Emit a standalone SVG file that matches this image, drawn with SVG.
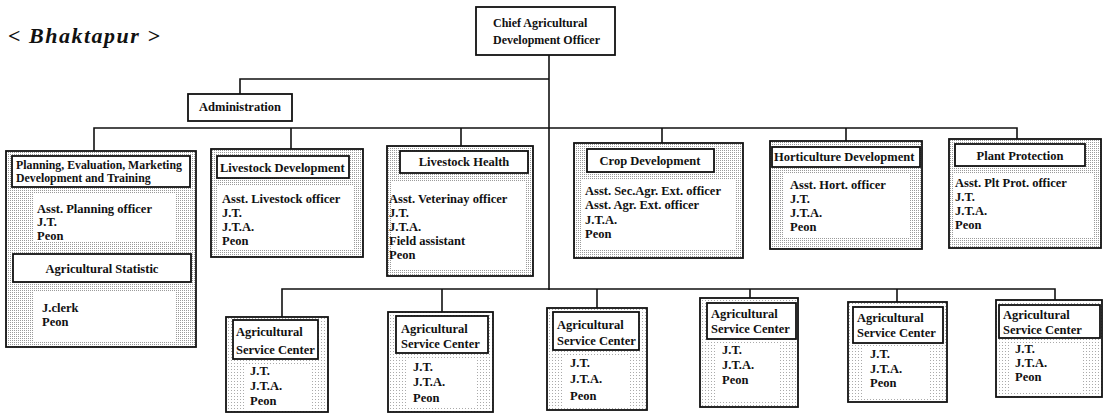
<svg xmlns="http://www.w3.org/2000/svg" width="1105" height="415" viewBox="0 0 1105 415">
<style>
text{font-family:"Liberation Serif","Times New Roman",serif;font-size:12.5px;font-weight:bold;fill:#111}
.title{font-size:22px;font-style:italic;letter-spacing:1.5px}
.chief{font-size:12px}
.sm{font-size:11.8px}
.mid{text-anchor:middle}
.outer{fill:url(#dots);stroke:#111;stroke-width:1.8}
.outerl{fill:url(#dotsl);stroke:#111;stroke-width:1.8}
.tbox{fill:#fff;stroke:#111;stroke-width:1.8}
.inner{fill:#fff;stroke:none}
.conn{fill:none;stroke:#111;stroke-width:1.6}
</style>
<defs>
<pattern id="dots" width="2" height="2" patternUnits="userSpaceOnUse">
<rect width="2" height="2" fill="#fff"/>
<rect width="1" height="1" fill="#9a9a9a"/>
</pattern>
<pattern id="dotsl" width="3" height="3" patternUnits="userSpaceOnUse">
<rect width="3" height="3" fill="#fff"/>
<rect width="1" height="1" fill="#aaa"/>
</pattern>
</defs>
<rect width="1105" height="415" fill="#fff"/>
<text class="title" x="8" y="43">&lt; Bhaktapur &gt;</text>

<g id="connectors">
<path class="conn" d="M549,55 V290"/>
<path class="conn" d="M549,79 H240 V94"/>
<path class="conn" d="M94,151 V128 H1017 V141"/>
<path class="conn" d="M291,128 V149"/>
<path class="conn" d="M461,128 V146"/>
<path class="conn" d="M662,128 V143"/>
<path class="conn" d="M846,128 V141"/>
<path class="conn" d="M282,317 V289 H1055 V300"/>
<path class="conn" d="M442,289 V312"/>
<path class="conn" d="M597,289 V308"/>
<path class="conn" d="M750,289 V298"/>
<path class="conn" d="M897,289 V302"/>
</g>

<g id="chief">
<rect class="tbox" x="476" y="7" width="139" height="48"/>
<text class="chief" x="493" y="27">Chief Agricultural</text>
<text class="chief" x="493" y="44">Development Officer</text>
</g>

<g id="administration">
<rect class="tbox" x="188" y="94" width="104" height="27"/>
<text class="mid" x="240" y="111">Administration</text>
</g>

<g id="planning">
<rect class="outer" x="6" y="151" width="190" height="196"/>
<rect class="tbox" x="12" y="156" width="178" height="31"/>
<text class="sm" x="16" y="169">Planning, Evaluation, Marketing</text>
<text class="sm" x="16" y="182">Development and Training</text>
<rect class="inner" x="33" y="194" width="143" height="48"/>
<text x="37" y="213">Asst. Planning officer</text>
<text x="37" y="226">J.T.</text>
<text x="37" y="240">Peon</text>
<rect class="tbox" x="13" y="254" width="178" height="28"/>
<text class="mid" x="102" y="273">Agricultural Statistic</text>
<rect class="inner" x="33" y="292" width="143" height="49"/>
<text x="42" y="312">J.clerk</text>
<text x="42" y="326">Peon</text>
</g>

<g id="livestock-development">
<rect class="outer" x="211" y="149" width="152" height="108"/>
<rect class="tbox" x="217" y="156" width="132" height="22"/>
<text x="220" y="172">Livestock Development</text>
<rect class="inner" x="217" y="186" width="136" height="64"/>
<text x="222" y="203">Asst. Livestock officer</text>
<text x="222" y="217">J.T.</text>
<text x="222" y="231">J.T.A.</text>
<text x="222" y="245">Peon</text>
</g>

<g id="livestock-health">
<rect class="outer" x="387" y="146" width="146" height="130"/>
<rect class="tbox" x="400" y="151" width="128" height="22"/>
<text class="mid" x="464" y="166">Livestock Health</text>
<rect class="inner" x="392" y="181" width="134" height="88"/>
<text x="389" y="203">Asst. Veterinay officer</text>
<text x="389" y="217">J.T.</text>
<text x="389" y="231">J.T.A.</text>
<text x="389" y="245">Field assistant</text>
<text x="389" y="259">Peon</text>
</g>

<g id="crop-development">
<rect class="outer" x="574" y="143" width="169" height="115"/>
<rect class="tbox" x="587" y="149" width="127" height="23"/>
<text class="mid" x="650" y="165">Crop Development</text>
<rect class="inner" x="582" y="180" width="153" height="70"/>
<text x="585" y="195">Asst. Sec.Agr. Ext. officer</text>
<text x="585" y="209">Asst. Agr. Ext. officer</text>
<text x="585" y="224">J.T.A.</text>
<text x="585" y="238">Peon</text>
</g>

<g id="horticulture-development">
<rect class="outer" x="770" y="141" width="152" height="108"/>
<rect class="tbox" x="772" y="147" width="148" height="20"/>
<text x="774" y="161">Horticulture Development</text>
<rect class="inner" x="784" y="174" width="126" height="64"/>
<text x="790" y="189">Asst. Hort. officer</text>
<text x="790" y="203">J.T.</text>
<text x="790" y="217">J.T.A.</text>
<text x="790" y="231">Peon</text>
</g>

<g id="plant-protection">
<rect class="outer" x="949" y="139" width="152" height="109"/>
<rect class="tbox" x="955" y="144" width="130" height="22"/>
<text class="mid" x="1020" y="160">Plant Protection</text>
<rect class="inner" x="954" y="174" width="140" height="64"/>
<text x="955" y="187">Asst. Plt Prot. officer</text>
<text x="955" y="201">J.T.</text>
<text x="955" y="215">J.T.A.</text>
<text x="955" y="229">Peon</text>
</g>

<g id="asc-1">
<rect class="outerl" x="226" y="317" width="102" height="95"/>
<rect class="tbox" x="233" y="320" width="85" height="39"/>
<text x="236" y="336">Agricultural</text>
<text x="236" y="354">Service Center</text>
<rect class="inner" x="244" y="364" width="66" height="45"/>
<text x="250" y="375">J.T.</text>
<text x="250" y="390">J.T.A.</text>
<text x="250" y="405">Peon</text>
</g>

<g id="asc-2">
<rect class="outerl" x="388" y="312" width="105" height="100"/>
<rect class="tbox" x="396" y="316" width="92" height="37"/>
<text x="401" y="333">Agricultural</text>
<text x="401" y="348">Service Center</text>
<rect class="inner" x="406" y="358" width="70" height="50"/>
<text x="413" y="371">J.T.</text>
<text x="413" y="386">J.T.A.</text>
<text x="413" y="402">Peon</text>
</g>

<g id="asc-3">
<rect class="outerl" x="547" y="308" width="100" height="102"/>
<rect class="tbox" x="553" y="312" width="86" height="38"/>
<text x="557" y="329">Agricultural</text>
<text x="557" y="345">Service Center</text>
<rect class="inner" x="564" y="355" width="66" height="51"/>
<text x="570" y="367">J.T.</text>
<text x="570" y="383">J.T.A.</text>
<text x="570" y="400">Peon</text>
</g>

<g id="asc-4">
<rect class="outerl" x="700" y="298" width="98" height="109"/>
<rect class="tbox" x="707" y="303" width="89" height="36"/>
<text x="711" y="318">Agricultural</text>
<text x="711" y="333">Service Center</text>
<rect class="inner" x="716" y="344" width="64" height="58"/>
<text x="722" y="354">J.T.</text>
<text x="722" y="369">J.T.A.</text>
<text x="722" y="384">Peon</text>
</g>

<g id="asc-5">
<rect class="outerl" x="848" y="302" width="99" height="100"/>
<rect class="tbox" x="853" y="307" width="90" height="36"/>
<text x="857" y="322">Agricultural</text>
<text x="857" y="337">Service Center</text>
<rect class="inner" x="862" y="348" width="66" height="50"/>
<text x="870" y="358">J.T.</text>
<text x="870" y="373">J.T.A.</text>
<text x="870" y="387">Peon</text>
</g>

<g id="asc-6">
<rect class="outerl" x="996" y="300" width="106" height="97"/>
<rect class="tbox" x="999" y="305" width="101" height="33"/>
<text x="1003" y="319">Agricultural</text>
<text x="1003" y="334">Service Center</text>
<rect class="inner" x="1010" y="343" width="72" height="50"/>
<text x="1015" y="353">J.T.</text>
<text x="1015" y="367">J.T.A.</text>
<text x="1015" y="381">Peon</text>
</g>
</svg>
